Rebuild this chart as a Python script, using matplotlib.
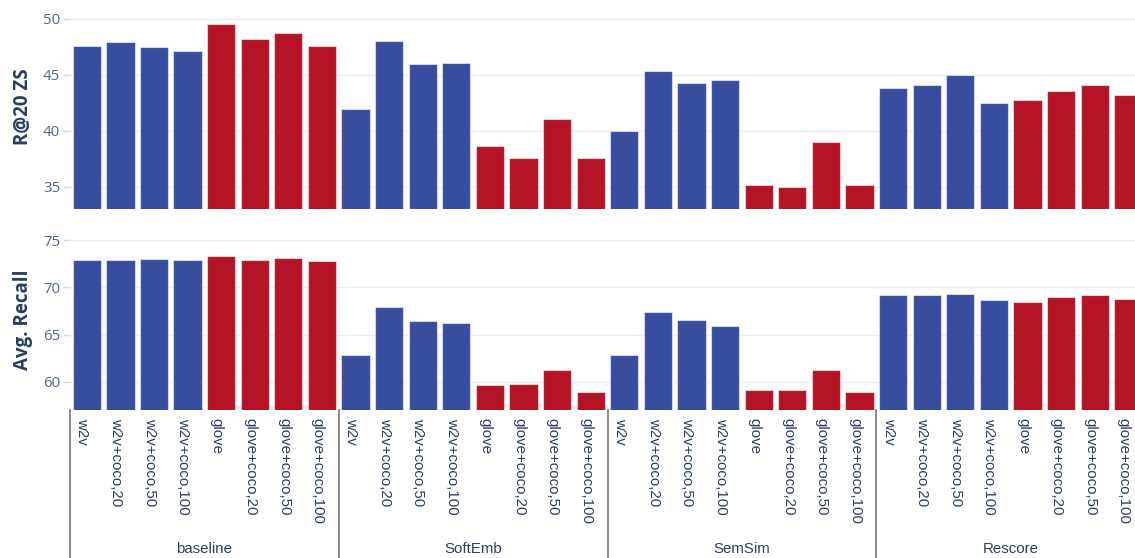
import numpy as np
import matplotlib
matplotlib.use("Agg")
import matplotlib.pyplot as plt
from matplotlib.transforms import blended_transform_factory

# Embedding variants within each method, and the methods themselves
variants = ["w2v", "w2v+coco,20", "w2v+coco,50", "w2v+coco,100",
            "glove", "glove+coco,20", "glove+coco,50", "glove+coco,100"]
methods = ["baseline", "SoftEmb", "SemSim", "Rescore"]

# R@20 zero-shot, per method (8 variants each)
r20_baseline = [47.6, 47.95, 47.44, 47.14, 49.5, 48.19, 48.75, 47.6]
r20_softemb = [41.9, 48.04, 45.95, 46.07, 38.6, 37.6, 41.04, 37.6]
r20_semsim = [40.0, 45.36, 44.29, 44.52, 35.15, 34.94, 38.99, 35.18]
r20_rescore = [43.78, 44.05, 45.0, 42.47, 42.74, 43.54, 44.05, 43.15]

# Average recall, per method
avg_baseline = [72.91, 72.88, 73.05, 72.91, 73.37, 72.91, 73.09, 72.77]
avg_softemb = [62.83, 67.92, 66.43, 66.26, 59.68, 59.78, 61.27, 58.9]
avg_semsim = [62.79, 67.43, 66.51, 65.94, 59.08, 59.15, 61.27, 58.94]
avg_rescore = [69.19, 69.19, 69.27, 68.70, 68.42, 68.98, 69.16, 68.74]

r20_all = r20_baseline + r20_softemb + r20_semsim + r20_rescore
avg_all = avg_baseline + avg_softemb + avg_semsim + avg_rescore

BLUE = "#394d9e"
RED = "#b51326"
TXT = "#2a3f5f"
TICK = "#506784"
GRID = "#ebf0f8"

W, H = 1135, 558
fig = plt.figure(figsize=(W / 100, H / 100), dpi=100)


def fx(px):
    return px / W


def fy(py):
    return 1 - py / H


n = len(variants) * len(methods)
x = np.arange(n)
colors = [BLUE if v.startswith("w2v") else RED for v in variants] * len(methods)

left_px, width_px = 70, 1075
ax_top = fig.add_axes([fx(left_px), fy(209), fx(width_px), fy(3) - fy(209)])
ax_bot = fig.add_axes([fx(left_px), fy(410), fx(width_px), fy(229) - fy(410)])

panels = [
    (ax_top, r20_all, (33, 51.4), [35, 40, 45, 50], "R@20 ZS", 107),
    (ax_bot, avg_all, (57, 76.2), [60, 65, 70, 75], "Avg. Recall", 320),
]

for ax, vals, ylim, yt, title, ty in panels:
    ax.bar(x, vals, width=0.84, color=colors, edgecolor=(1, 1, 1, 0.55),
           linewidth=0.8, zorder=3)
    ax.set_xlim(-0.5, n - 0.5)
    ax.set_ylim(*ylim)
    ax.set_yticks(yt)
    ax.set_yticklabels([str(v) for v in yt], fontsize=10.8,
                       fontfamily="Open Sans", color=TICK)
    ax.tick_params(axis="y", length=5, width=1, color="#d5dbe5", pad=2)
    ax.set_xticks([])
    ax.grid(axis="y", color=GRID, linewidth=1, zorder=0)
    for s in ax.spines.values():
        s.set_visible(False)
    fig.text(fx(23), fy(ty), title, rotation=90, ha="center", va="center",
             fontsize=13.5, fontweight="bold", fontfamily="Open Sans", color=TXT)

# Multi-category x axis: variant labels, method labels, dividers
trans = blended_transform_factory(ax_bot.transData, fig.transFigure)
for i in range(n):
    ax_bot.text(i - 0.13, fy(418), variants[i % len(variants)], transform=trans,
                rotation=-90, ha="center", va="top", fontsize=10.8,
                fontfamily="Liberation Sans", color=TXT, clip_on=False)

for g, m in enumerate(methods):
    c = g * len(variants) + (len(variants) - 1) / 2
    ax_bot.text(c, fy(549), m, transform=trans, ha="center", va="center",
                fontsize=10.8, fontfamily="Liberation Sans", color=TXT,
                clip_on=False)

for g in range(len(methods) + 1):
    xd = g * len(variants) - 0.5
    ax_bot.plot([xd, xd], [fy(410), 0], transform=trans, color="#808080",
                linewidth=1.3, clip_on=False)

fig.savefig("out.png", dpi=100, facecolor="white")
